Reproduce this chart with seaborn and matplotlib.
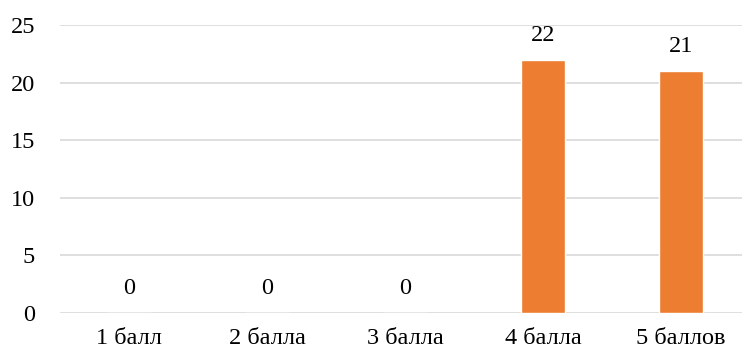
import matplotlib
matplotlib.use("Agg")
import matplotlib.pyplot as plt
import seaborn as sns
import pandas as pd

categories = ["1 балл", "2 балла", "3 балла", "4 балла", "5 баллов"]
counts = [0, 0, 0, 22, 21]
y_ticks = [0, 5, 10, 15, 20, 25]

sns.set_theme(style="white")
plt.rcParams["font.family"] = ["Liberation Serif", "DejaVu Serif"]

df = pd.DataFrame({"category": categories, "count": counts})

fig = plt.figure(figsize=(7.42, 3.51), dpi=100)
ax = fig.add_axes([60 / 742, 38 / 351, 690 / 742, 288 / 351])

sns.barplot(data=df, x="category", y="count", color="#ED7D31", saturation=1,
            width=0.32, ax=ax)

ax.set_ylim(0, 25)
ax.set_yticks(y_ticks)
ax.yaxis.grid(True, color="#d9d9d9", linewidth=1.2)
ax.set_axisbelow(True)
for s in ax.spines.values():
    s.set_visible(False)
ax.set_xlabel("")
ax.set_ylabel("")
ax.tick_params(axis="y", length=0, pad=18, labelsize=17.5, colors="#000000")
ax.tick_params(axis="x", length=0, pad=11, labelsize=17.5, colors="#000000")

for i, v in enumerate(counts):
    ax.annotate(str(v), xy=(i, v), xytext=(0, 10), textcoords="offset points",
                ha="center", va="bottom", fontsize=17.5, color="#000000")

fig.savefig("out.png", dpi=100)
